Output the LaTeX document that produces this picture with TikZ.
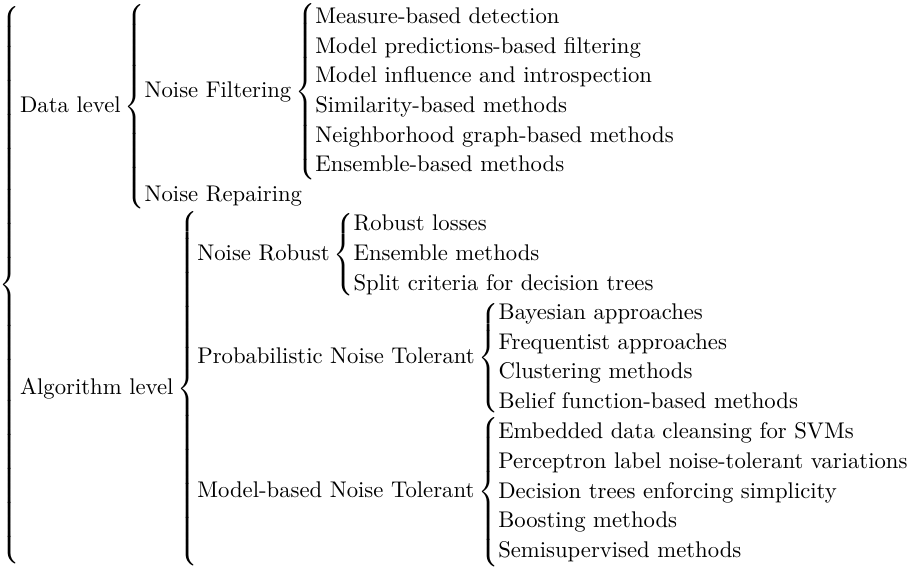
\documentclass[tikz,11pt,border=0pt]{standalone}
\usepackage{amsmath}
\usepackage{tikz}

\renewcommand{\arraystretch}{1.05}

\begin{document}
\begin{tikzpicture}
        % taxonomy of label-noise handling, typeset as nested braces
        \node (taxonomy) [inner xsep=0pt, inner ysep=1.5pt] {$\left\{\begin{array}{@{}l@{}}
            \text{Data level}\left\{\begin{array}{@{}l@{}}
                \text{Noise Filtering}\left\{\begin{array}{@{}l@{}}
                    \text{Measure-based detection}\\
                    \text{Model predictions-based filtering}\\
                    \text{Model influence and introspection}\\
                    \text{Similarity-based methods}\\
                    \text{Neighborhood graph-based methods}\\
                    \text{Ensemble-based methods}
                \end{array}\right.\\[4pt]
                \text{Noise Repairing}
            \end{array}\right.\\
            \text{Algorithm level}\left\{\begin{array}{@{}l@{}}
                \text{Noise Robust}\left\{\begin{array}{@{}l@{}}
                    \text{Robust losses}\\
                    \text{Ensemble methods}\\
                    \text{Split criteria for decision trees}
                \end{array}\right.\\[3pt]
                \text{Probabilistic Noise Tolerant}\left\{\begin{array}{@{}l@{}}
                    \text{Bayesian approaches}\\
                    \text{Frequentist approaches}\\
                    \text{Clustering methods}\\
                    \text{Belief function-based methods}
                \end{array}\right.\\
                \text{Model-based Noise Tolerant}\left\{\begin{array}{@{}l@{}}
                    \text{Embedded data cleansing for SVMs}\\
                    \text{Perceptron label noise-tolerant variations}\\
                    \text{Decision trees enforcing simplicity}\\
                    \text{Boosting methods}\\
                    \text{Semisupervised methods}
                \end{array}\right.
            \end{array}\right.
        \end{array}\right.$};
    \end{tikzpicture}
\end{document}
